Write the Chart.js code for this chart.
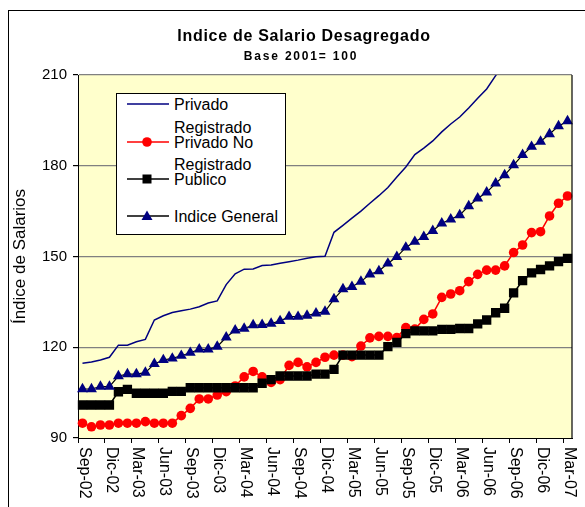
<!DOCTYPE html>
<html>
<head>
<meta charset="utf-8">
<script src="https://cdn.jsdelivr.net/npm/chart.js@4/dist/chart.umd.min.js"></script>
<style>
  body { margin: 0; background: #fff; }
  #wrap { position: relative; width: 585px; height: 507px; overflow: hidden; }
  #chart { position: absolute; left: 0; top: 0; }
  #legend {
    position: absolute; left: 116px; top: 93px; width: 168px; height: 140px;
    background: #fff; border: 1px solid #000;
    font-family: "Liberation Sans", Arial, sans-serif; font-size: 16px; color: #000;
  }
  #legend svg { position: absolute; left: 0; top: 0; }
  .leg-text { position: absolute; left: 57px; line-height: 15px; white-space: nowrap; }
</style>
</head>
<body>
<div id="wrap">
  <canvas id="chart" width="585" height="507"></canvas>
  <div id="legend">
    <svg width="168" height="140">
      <line x1="10" y1="10" x2="52" y2="10" stroke="#000080" stroke-width="1.5"/>
      <line x1="10" y1="48" x2="52" y2="48" stroke="#ff0000" stroke-width="1.5"/>
      <circle cx="30" cy="48" r="4.8" fill="#ff0000"/>
      <line x1="10" y1="85" x2="52" y2="85" stroke="#000" stroke-width="1.5"/>
      <rect x="25.5" y="80.5" width="9" height="9" fill="#000"/>
      <line x1="10" y1="122" x2="52" y2="122" stroke="#000" stroke-width="1.5"/>
      <polygon points="30,116.5 35.5,126 24.5,126" fill="#000080"/>
    </svg>
    <div class="leg-text" style="top:3px">Privado</div>
    <div class="leg-text" style="top:26px">Registrado<br>Privado No</div>
    <div class="leg-text" style="top:63px">Registrado<br>Publico</div>
    <div class="leg-text" style="top:115px">Indice General</div>
  </div>
</div>
<script>
const meses = [
  "Sep-02", "Oct-02", "Nov-02", "Dic-02",
  "Ene-03", "Feb-03", "Mar-03", "Abr-03", "May-03", "Jun-03", "Jul-03", "Ago-03", "Sep-03", "Oct-03", "Nov-03", "Dic-03",
  "Ene-04", "Feb-04", "Mar-04", "Abr-04", "May-04", "Jun-04", "Jul-04", "Ago-04", "Sep-04", "Oct-04", "Nov-04", "Dic-04",
  "Ene-05", "Feb-05", "Mar-05", "Abr-05", "May-05", "Jun-05", "Jul-05", "Ago-05", "Sep-05", "Oct-05", "Nov-05", "Dic-05",
  "Ene-06", "Feb-06", "Mar-06", "Abr-06", "May-06", "Jun-06", "Jul-06", "Ago-06", "Sep-06", "Oct-06", "Nov-06", "Dic-06",
  "Ene-07", "Feb-07", "Mar-07"
];

// Privado leaves the top of the plot after Ago-06
const privado = [
  114.7, 115.1, 115.8, 116.7, 120.7, 120.7, 121.8, 122.6, 129.0, 130.4, 131.5, 132.1,
  132.6, 133.4, 134.6, 135.3, 140.7, 144.3, 145.8, 145.9, 147.0, 147.2, 147.8, 148.3,
  148.8, 149.4, 149.9, 150.1, 158.0, 160.3, 162.7, 165.0, 167.6, 170.1, 172.8, 176.3,
  179.6, 183.7, 185.8, 188.2, 191.2, 193.8, 196.1, 199.1, 202.3, 205.4, 209.8, 214.5,
  null, null, null, null, null, null, null
];

const privadoNoReg = [
  94.9, 93.7, 94.3, 94.3, 94.9, 94.9, 94.9, 95.4, 94.9, 94.9, 94.9, 97.4,
  99.8, 102.9, 102.9, 104.2, 105.3, 107.2, 110.2, 112.0, 110.2, 108.4, 109.3, 114.0,
  115.0, 113.5, 115.0, 116.7, 117.4, 117.4, 116.9, 120.4, 123.1, 123.6, 123.6, 123.2,
  126.5, 126.0, 129.2, 131.0, 136.5, 137.6, 138.7, 141.7, 144.1, 145.5, 145.5, 146.9,
  151.3, 153.8, 157.9, 158.2, 163.4, 167.6, 170.0
];

const publico = [
  100.9, 100.9, 100.9, 100.9, 105.3, 106.1, 104.8, 104.8, 104.8, 104.8, 105.4, 105.4,
  106.6, 106.6, 106.6, 106.6, 106.6, 106.6, 106.6, 106.6, 108.1, 109.3, 110.5, 110.5,
  110.5, 110.5, 111.1, 111.1, 112.7, 117.4, 117.4, 117.4, 117.4, 117.4, 120.2, 121.6,
  124.5, 125.4, 125.4, 125.4, 125.9, 125.9, 126.2, 126.2, 127.7, 129.0, 131.4, 132.9,
  138.0, 142.0, 144.6, 145.7, 146.9, 148.3, 149.4
];

const indiceGeneral = [
  106.2, 106.2, 107.0, 107.0, 110.5, 111.1, 111.1, 111.6, 114.5, 115.8, 116.3, 117.2,
  118.2, 119.3, 119.3, 120.2, 123.3, 125.6, 126.2, 127.3, 127.4, 127.8, 128.7, 130.1,
  130.1, 130.5, 131.2, 131.8, 135.9, 139.2, 140.0, 141.7, 144.1, 145.2, 147.7, 149.9,
  153.0, 154.9, 156.5, 158.5, 161.0, 162.3, 163.7, 166.7, 169.2, 171.2, 174.2, 176.9,
  180.2, 183.6, 186.3, 188.0, 190.5, 193.1, 194.8
];

const yTicks = [90, 120, 150, 180, 210];

const FONT = '"Liberation Sans", Arial, sans-serif';

/** Background, outer frame, plot area */
const backgroundPlugin = {
  id: "background",
  beforeDraw(chart) {
    const { ctx, chartArea: a } = chart;
    ctx.save();
    ctx.fillStyle = "#fff";
    ctx.fillRect(0, 0, chart.width, chart.height);
    ctx.strokeStyle = "#000";
    ctx.lineWidth = 1;
    ctx.strokeRect(8.5, 10.5, 700, 700);
    ctx.fillStyle = "#ffffcc";
    ctx.fillRect(a.left, a.top, a.right - a.left, a.bottom - a.top);
    ctx.restore();
  },
  afterDraw(chart) {
    const { ctx, chartArea: a } = chart;
    ctx.save();
    ctx.strokeStyle = "#000";
    ctx.lineWidth = 1.2;
    ctx.beginPath();
    ctx.moveTo(a.right, a.top);
    ctx.lineTo(a.right, a.bottom);
    ctx.stroke();
    ctx.restore();
  },
};

/** Titles */
const titlePlugin = {
  id: "titles",
  afterDraw(chart) {
    const { ctx } = chart;
    ctx.save();
    ctx.fillStyle = "#000";
    ctx.textAlign = "center";
    ctx.textBaseline = "middle";
    ctx.font = "bold 16px " + FONT;
    ctx.letterSpacing = "0.7px";
    ctx.fillText("Indice de Salario Desagregado", 304, 37);
    ctx.font = "bold 12px " + FONT;
    ctx.letterSpacing = "1.8px";
    ctx.fillText("Base 2001= 100", 301, 57);
    ctx.restore();
  },
};

/** X labels, rotated to read downwards */
const xLabelPlugin = {
  id: "xLabels",
  afterDraw(chart) {
    const { ctx } = chart;
    const x = chart.scales.x;
    ctx.save();
    ctx.fillStyle = "#000";
    ctx.font = "16px " + FONT;
    ctx.textAlign = "left";
    ctx.textBaseline = "middle";
    meses.forEach((m, i) => {
      if (i % 3 !== 0) return;
      ctx.save();
      ctx.translate(x.getPixelForValue(i) + 1.5, x.top + 9);
      ctx.rotate(Math.PI / 2);
      ctx.fillText(m, 0, 0);
      ctx.restore();
    });
    ctx.restore();
  },
};

new Chart(document.getElementById("chart"), {
  type: "line",
  data: {
    labels: meses,
    datasets: [
      {
        label: "Privado",
        data: privado,
        borderColor: "#000080",
        borderWidth: 1.5,
        pointRadius: 0,
        order: 4,
      },
      {
        label: "Registrado Privado No",
        data: privadoNoReg,
        borderColor: "#ff0000",
        borderWidth: 1.5,
        pointStyle: "circle",
        pointRadius: 4.8,
        pointBackgroundColor: "#ff0000",
        pointBorderColor: "#ff0000",
        pointBorderWidth: 0,
        order: 3,
      },
      {
        label: "Registrado Publico",
        data: publico,
        borderColor: "#000",
        borderWidth: 1.5,
        pointStyle: "rect",
        pointRadius: 6.6,
        pointBackgroundColor: "#000",
        pointBorderColor: "#000",
        pointBorderWidth: 0,
        order: 2,
      },
      {
        label: "Indice General",
        data: indiceGeneral,
        borderColor: "#000",
        borderWidth: 1.2,
        pointStyle: "triangle",
        pointRadius: 6.3,
        pointBackgroundColor: "#000080",
        pointBorderColor: "#000080",
        pointBorderWidth: 0,
        order: 1,
      },
    ],
  },
  options: {
    responsive: false,
    animation: false,
    layout: { padding: { top: 75, right: 13, bottom: 0, left: 0 } },
    elements: { line: { tension: 0 } },
    plugins: {
      legend: { display: false },
      title: { display: false },
      tooltip: { enabled: false },
    },
    scales: {
      x: {
        offset: true,
        grid: {
          offset: true,
          drawOnChartArea: false,
          drawTicks: true,
          tickLength: 5,
          tickColor: (c) => (c.index % 3 === 0 ? "#000" : "rgba(0,0,0,0)"),
        },
        border: { color: "#000", width: 1 },
        ticks: { display: false, autoSkip: false },
        afterFit: (s) => { s.height = 69; },
      },
      y: {
        min: 90,
        max: 210,
        afterBuildTicks: (s) => { s.ticks = yTicks.map((v) => ({ value: v })); },
        grid: {
          color: (c) => (c.tick && c.tick.value === 90 ? "rgba(0,0,0,0)" : "#808080"),
          lineWidth: 1.2,
          tickColor: "#000",
          tickLength: 5,
        },
        border: { color: "#000", width: 1 },
        ticks: {
          color: "#000",
          padding: 6,
          font: { family: FONT, size: 15 },
        },
        title: {
          display: true,
          text: "Índice de Salarios",
          color: "#000",
          font: { family: FONT, size: 17 },
          padding: { top: 10, bottom: 0 },
        },
        afterFit: (s) => { s.width = 78; },
      },
    },
  },
  plugins: [backgroundPlugin, titlePlugin, xLabelPlugin],
});
</script>
</body>
</html>
